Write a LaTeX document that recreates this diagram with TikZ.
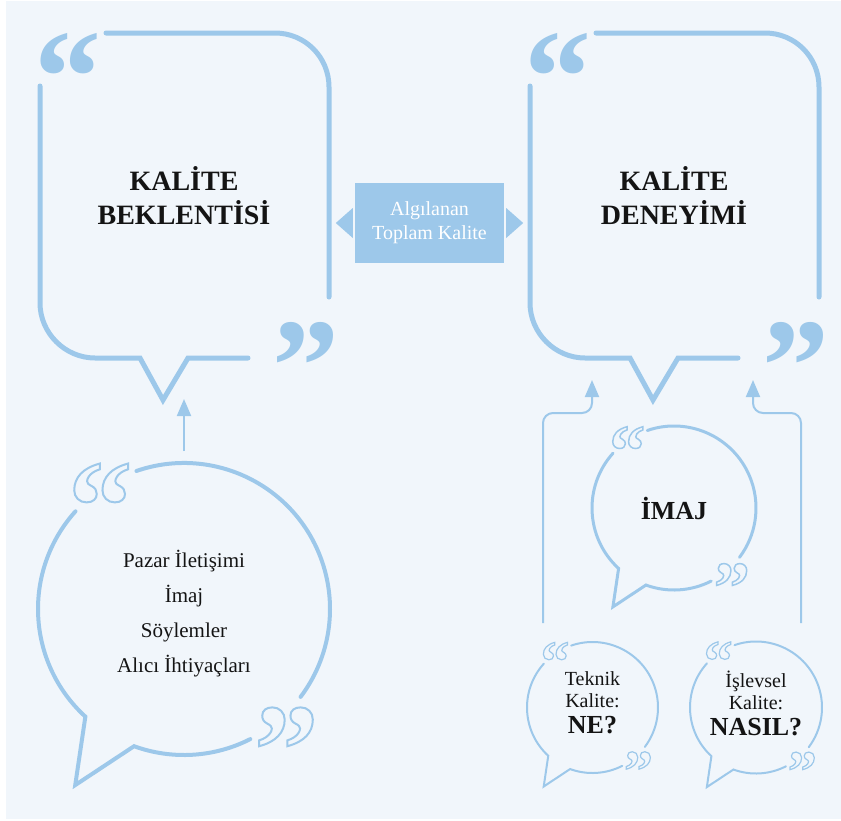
\documentclass[tikz,border=0pt]{standalone}
\usepackage{fontspec}
\setmainfont{Liberation Serif}
\usetikzlibrary{arrows.meta}

\definecolor{qblue}{HTML}{9DC8EA}
\definecolor{paper}{HTML}{F1F6FB}
\definecolor{ink}{HTML}{141414}

% glyph drawn as outline only (text render mode 1)
\newcommand\hollow[2]{\special{pdf:literal 1 Tr #1 w}#2\special{pdf:literal 0 Tr}}

% square speech bubble with filled quote marks: name, x offset
\newcommand\squarebubble[2]{%
  \begin{scope}[shift={(#2,0)}, bubbleline, line width=5pt]
    \draw (106,33) -- (275,33) .. controls (305,33) and (329,57) .. (329,87) -- (329,297);
    \draw (40,86) -- (40,303) .. controls (40,333) and (65,358) .. (95,358)
      -- (140,358) -- (163,400) -- (188,358) -- (248,358);
    \node[bigquote, anchor=north west] (#1-open) at (31.7,31) {“};
    \node[bigquote, anchor=north west] (#1-close) at (270,320) {”};
  \end{scope}}

% round speech bubble: name, centre x, centre y, radius, line width, glyph stroke
\newcommand\roundbubble[6]{%
  \pgfmathsetmacro\qsize{0.88*#4}%
  \begin{scope}[shift={(#2,#3)}, yscale=-1, bubbleline, line width=#5]
    \coordinate (#1) at (0,0);
    \draw (109:#4) arc[start angle=109, end angle=-37, radius=#4];
    \draw (-63:#4) arc[start angle=-63, end angle=-110, radius=#4]
      -- (-0.745*#4,-1.206*#4) -- (227.5:#4)
      arc[start angle=227.5, end angle=138, radius=#4];
    \node[quote, font=\fontsize{\qsize}{\qsize}\selectfont\bfseries, anchor=north west]
      (#1-open) at (-0.808*#4,1.01*#4) {\hollow{#6}{“}};
    \node[quote, font=\fontsize{\qsize}{\qsize}\selectfont\bfseries, anchor=north west]
      (#1-close) at (0.468*#4,-0.66*#4) {\hollow{#6}{”}};
  \end{scope}}

\tikzset{
  bubbleline/.style={draw=qblue, line cap=round},
  bigquote/.style={inner sep=0pt, text=qblue, font=\fontsize{134}{134}\selectfont\bfseries},
  quote/.style={inner sep=0pt, text=qblue},
  title/.style={align=center, text=ink, font=\fontsize{28}{34}\selectfont\bfseries},
  listtext/.style={align=center, text=ink, font=\fontsize{21}{35}\selectfont},
  smalltext/.style={align=center, text=ink, font=\fontsize{20}{22}\selectfont},
  conn/.style={draw=qblue, line width=2pt, -{Triangle[length=17pt,width=14pt]}},
}

\begin{document}
\begin{tikzpicture}[x=1pt, y=-1pt]
  \useasboundingbox (0,0) rectangle (841,820);
  \fill[white] (0,0) rectangle (841,820);
  \fill[paper] (6,1) rectangle (841,819);

  % expectation and experience
  \squarebubble{beklenti}{0}
  \squarebubble{deneyim}{490}
  \node[title] (beklenti) at (184,196) {KALİTE\\BEKLENTİSİ};
  \node[title] (deneyim) at (674,196) {KALİTE\\DENEYİMİ};

  % perceived total quality between them
  \node[fill=qblue, text=white, align=center, inner sep=0pt,
    minimum width=149pt, minimum height=80pt,
    font=\fontsize{20}{24}\selectfont] (algilanan) at (429.5,223) {Algılanan\\Toplam Kalite};
  \fill[qblue] ([xshift=-2pt,yshift=15pt]algilanan.west) -- ([xshift=-19pt]algilanan.west)
    -- ([xshift=-2pt,yshift=-15pt]algilanan.west) -- cycle;
  \fill[qblue] ([xshift=2pt,yshift=15pt]algilanan.east) -- ([xshift=19pt]algilanan.east)
    -- ([xshift=2pt,yshift=-15pt]algilanan.east) -- cycle;

  % inputs to the expectation
  \roundbubble{pazar}{184}{609}{146}{4pt}{2}
  \node[listtext] (pazar-text) at (184,614) {Pazar İletişimi\\İmaj\\Söylemler\\Alıcı İhtiyaçları};
  \coordinate (pazar-out) at (184,451);
  \coordinate (beklenti-in) at (184,399);
  \draw[conn] (pazar-out) -- (beklenti-in);

  % image, technical and functional quality
  \roundbubble{imaj}{674}{508}{82}{3pt}{1.5}
  \node[text=ink, font=\fontsize{26}{26}\selectfont\bfseries] (imaj-text) at (674,508) {İMAJ};

  \roundbubble{teknik}{592.5}{707.5}{65.5}{2pt}{1.2}
  \node[smalltext] (teknik-text) at (592.5,703)
    {Teknik\\Kalite:\\[4pt]{\fontsize{26}{26}\selectfont\bfseries NE?}};

  \roundbubble{islevsel}{756}{707.5}{66}{2pt}{1.2}
  \node[smalltext] (islevsel-text) at (756,703)
    {İşlevsel\\Kalite:\\[4pt]{\fontsize{26}{26}\selectfont\bfseries NASIL?}};

  \coordinate (teknik-out) at (543,623);
  \coordinate (deneyim-in1) at (592,380);
  \coordinate (islevsel-out) at (801,623);
  \coordinate (deneyim-in2) at (753,380);
  \draw[conn, rounded corners=10pt] (teknik-out) |- (592,413) -- (deneyim-in1);
  \draw[conn, rounded corners=10pt] (islevsel-out) |- (753,413) -- (deneyim-in2);
\end{tikzpicture}
\end{document}
